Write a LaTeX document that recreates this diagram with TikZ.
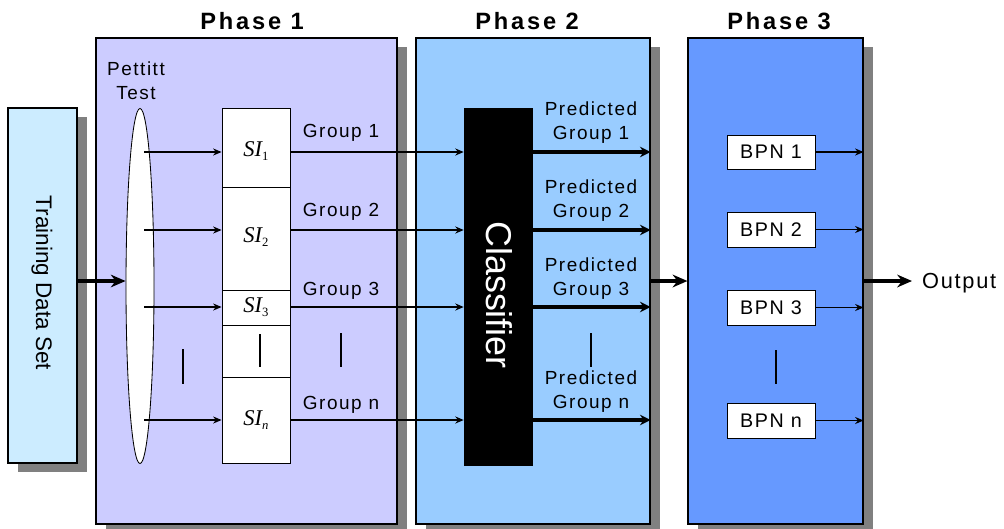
\documentclass[tikz,border=0pt]{standalone}
\usepackage{fontspec}
\setmainfont{Liberation Sans}
\newfontfamily\lbl[LetterSpace=8]{Liberation Sans}
\newfontfamily\hdr[LetterSpace=12]{Liberation Sans}
\newfontfamily\tms{Liberation Serif}
\usetikzlibrary{arrows.meta,fit,shadows,shapes.geometric}
\definecolor{trainc}{HTML}{CCECFF}
\definecolor{phaseA}{HTML}{CCCCFF}
\definecolor{phaseB}{HTML}{99CCFF}
\definecolor{phaseC}{HTML}{6699FF}
\definecolor{shadowgray}{HTML}{808080}
\newcommand{\SIlab}[1]{{\tms\fontsize{16}{16}\selectfont\itshape SI}\raisebox{-0.45ex}{\tms\fontsize{9}{9}\selectfont #1}}
\begin{document}
\begin{tikzpicture}[x=0.025cm,y=-0.025cm,
  box/.style={draw=black, line width=0.8pt, inner sep=0pt},
  cell/.style={draw=black, line width=0.6pt, fill=white, inner sep=0pt},
  shad/.style={drop shadow={shadow xshift=0.25cm, shadow yshift=-0.225cm, fill=shadowgray, opacity=1}},
  lab/.style={font=\lbl\fontsize{13.5}{17}\selectfont, inner sep=0pt, align=center},
  head/.style={font=\hdr\bfseries\fontsize{16.8}{18}\selectfont, inner sep=0pt},
  thinarr/.style={-{Stealth[length=6pt,width=5pt]}, line width=1pt},
  midarr/.style={-{Stealth[length=7.5pt,width=7.5pt]}, line width=2.6pt},
  thickarr/.style={-{Stealth[length=10.5pt,width=9pt]}, line width=3pt},
  bar/.style={line width=0.9pt}]
\useasboundingbox (0,0) rectangle (1004,528);
% row coordinates
\coordinate (r0) at (0,281);
\coordinate (r1) at (0,152);
\coordinate (r2) at (0,230);
\coordinate (r3) at (0,307);
\coordinate (rn) at (0,420);
% main boxes
\node[box, fill=trainc, shad, fit={(8,108) (77,463)}] (train) {};
\node[box, fill=phaseA, shad, fit={(96,38) (397,524)}] (ph1) {};
\node[box, fill=phaseB, shad, fit={(416,38) (650,524)}] (ph2) {};
\node[box, fill=phaseC, shad, fit={(688,38) (863,524)}] (ph3) {};
\node[font=\fontsize{16}{16}\selectfont, rotate=-90, inner sep=0pt] (traintxt) at (42,283) {Training Data Set};
% headings
\node[head] (h1) at (252,21) {Phase 1};
\node[head] (h2) at (527,21) {Phase 2};
\node[head] (h3) at (779,21) {Phase 3};
% Pettitt
\node[lab, align=center] (pettxt) at (136,81) {Pettitt\\Test};
\node[ellipse, draw=black, line width=0.6pt, fill=white, inner sep=0pt, minimum width=0.7cm, minimum height=8.875cm] (pet) at (140,286) {};
\coordinate (pr) at (144,286);
% SI cells
\node[cell, fit={(222,108) (290,187)}] (si1) {};
\node[cell, fit={(222,187) (290,290)}] (si2) {};
\node[cell, fit={(222,290) (290,325)}] (si3) {};
\node[cell, fit={(222,325) (290,377)}] (sid) {};
\node[cell, fit={(222,377) (290,463)}] (sin) {};
\node[inner sep=0pt] (si1t) at (256,151) {\SIlab{1}};
\node[inner sep=0pt] (si2t) at (256,237) {\SIlab{2}};
\node[inner sep=0pt] (si3t) at (256,307) {\SIlab{3}};
\node[inner sep=0pt] (sint) at (256,420) {\SIlab{\itshape n}};
\draw[bar] (260,334) -- (260,367);
\draw[bar] (183,349) -- (183,384);
% input
\draw[thickarr] (train.east |- r0) -- (pet.west |- r0);
% pettitt to SI
\draw[thinarr] (pr |- r1) -- (si1.west |- r1);
\draw[thinarr] (pr |- r2) -- (si2.west |- r2);
\draw[thinarr] (pr |- r3) -- (si3.west |- r3);
\draw[thinarr] (pr |- rn) -- (sin.west |- rn);
% classifier
\node[fill=black, inner sep=0pt, fit={(464,108) (533,466)}] (cls) {};
\node[text=white, font=\fontsize{25.5}{25.5}\selectfont, rotate=-90, inner sep=0pt] (clstxt) at (499,295) {Classifier};
% group labels
\node[lab] (g1) at (341,133) {Group 1};
\node[lab] (g2) at (341,212) {Group 2};
\node[lab] (g3) at (341,291) {Group 3};
\node[lab] (gn) at (341,405) {Group n};
\draw[bar] (341,333) -- (341,367);
\draw[thinarr] (si1.east |- r1) -- (cls.west |- r1);
\draw[thinarr] (si2.east |- r2) -- (cls.west |- r2);
\draw[thinarr] (si3.east |- r3) -- (cls.west |- r3);
\draw[thinarr] (sin.east |- rn) -- (cls.west |- rn);
% predicted
\node[lab] (p1) at (591,123) {Predicted\\Group 1};
\node[lab] (p2) at (591,201) {Predicted\\Group 2};
\node[lab] (p3) at (591,279) {Predicted\\Group 3};
\node[lab] (pn) at (591,392) {Predicted\\Group n};
\draw[bar] (591,333) -- (591,367);
\draw[midarr] (cls.east |- r1) -- (ph2.east |- r1);
\draw[midarr] (cls.east |- r2) -- (ph2.east |- r2);
\draw[midarr] (cls.east |- r3) -- (ph2.east |- r3);
\draw[midarr] (cls.east |- rn) -- (ph2.east |- rn);
% phase 2 to 3
\draw[thickarr] (ph2.east |- r0) -- (ph3.west |- r0);
% BPN
\node[cell, fit={(727,135) (815,169)}] (b1) {};
\node[cell, fit={(727,212) (815,247)}] (b2) {};
\node[cell, fit={(727,290) (815,325)}] (b3) {};
\node[cell, fit={(727,403) (815,438)}] (bn) {};
\node[lab, font=\lbl\fontsize{14}{17}\selectfont] at (b1.center) {BPN 1};
\node[lab, font=\lbl\fontsize{14}{17}\selectfont] at (b2.center) {BPN 2};
\node[lab, font=\lbl\fontsize{14}{17}\selectfont] at (b3.center) {BPN 3};
\node[lab, font=\lbl\fontsize{14}{17}\selectfont] at (bn.center) {BPN n};
\draw[bar] (776,350) -- (776,384);
\draw[thinarr] (b1.east) -- (ph3.east |- b1.east);
\draw[thinarr] (b2.east) -- (ph3.east |- b2.east);
\draw[thinarr] (b3.east) -- (ph3.east |- b3.east);
\draw[thinarr] (bn.east) -- (ph3.east |- bn.east);
% output
\node[lab, anchor=west, inner xsep=7pt, font=\lbl\fontsize{15.5}{17}\selectfont] (outp) at (912,283) {Output};
\draw[thickarr] (ph3.east |- r0) -- (outp.west |- r0);
\end{tikzpicture}
\end{document}
